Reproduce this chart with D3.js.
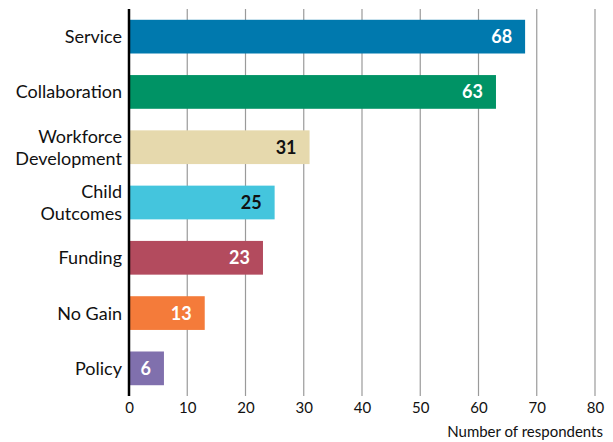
<!DOCTYPE html>
<html>
<head>
<meta charset="utf-8">
<script src="https://cdn.jsdelivr.net/npm/d3@7"></script>
<style>
  html, body { margin: 0; padding: 0; background: #fff; }
  svg { display: block; font-family: "Lato", "Open Sans", sans-serif; }
</style>
</head>
<body>
<svg id="chart" width="613" height="442"></svg>
<script>
// Survey categories and respondent counts
const categories = ["Service", "Collaboration", "Workforce\nDevelopment", "Child\nOutcomes", "Funding", "No Gain", "Policy"];
const counts = [68, 63, 31, 25, 23, 13, 6];
const barColors = ["#0079ae", "#009365", "#e6d9ad", "#44c5dd", "#b34b5e", "#f47b3a", "#8070ad"];
const valueLabelColors = ["#ffffff", "#ffffff", "#111111", "#111111", "#ffffff", "#ffffff", "#ffffff"];
const xTicks = [0, 10, 20, 30, 40, 50, 60, 70, 80];
const xTitle = "Number of respondents";

const svg = d3.select("#chart");
const margin = { left: 129, right: 18, top: 9, bottom: 46 };
const W = 613, H = 442;

const x = d3.scaleLinear().domain([0, 80]).range([margin.left, W - margin.right]);
const y = d3.scaleBand()
  .domain(categories)
  .range([margin.top, H - margin.bottom])
  .paddingInner(0.39)
  .paddingOuter(0.195);

// vertical grid lines
svg.append("g")
  .selectAll("line")
  .data(xTicks.slice(1))
  .join("line")
  .attr("x1", d => x(d)).attr("x2", d => x(d))
  .attr("y1", margin.top).attr("y2", H - margin.bottom)
  .attr("stroke", "#9a9a9a")
  .attr("stroke-width", 1.2);

// bars
svg.append("g")
  .selectAll("rect")
  .data(categories)
  .join("rect")
  .attr("x", x(0))
  .attr("y", d => y(d))
  .attr("width", (d, i) => x(counts[i]) - x(0))
  .attr("height", y.bandwidth())
  .attr("fill", (d, i) => barColors[i]);

// value labels inside bar ends
svg.append("g")
  .selectAll("text")
  .data(categories)
  .join("text")
  .attr("x", (d, i) => x(counts[i]) - 13)
  .attr("y", d => y(d) + y.bandwidth() / 2)
  .attr("dy", "0.36em")
  .attr("text-anchor", "end")
  .attr("font-size", 18)
  .attr("font-weight", "bold")
  .attr("fill", (d, i) => valueLabelColors[i])
  .text((d, i) => counts[i]);

// category labels (may span two lines)
const catG = svg.append("g");
categories.forEach(c => {
  const lines = c.split("\n");
  const cy = y(c) + y.bandwidth() / 2;
  const lh = 22;
  const t = catG.append("text")
    .attr("text-anchor", "end")
    .attr("font-size", 18)
    .attr("fill", "#111");
  lines.forEach((ln, k) => {
    t.append("tspan")
      .attr("x", margin.left - 7)
      .attr("y", cy + (k - (lines.length - 1) / 2) * lh)
      .attr("dy", "0.36em")
      .text(ln);
  });
});

// y axis line
svg.append("line")
  .attr("x1", x(0)).attr("x2", x(0))
  .attr("y1", margin.top).attr("y2", H - margin.bottom)
  .attr("stroke", "#000")
  .attr("stroke-width", 2.5);

// x axis tick labels
const xAxis = d3.axisBottom(x).tickValues(xTicks).tickSize(0).tickPadding(0);
const gx = svg.append("g")
  .attr("transform", `translate(0,${H - margin.bottom + 6})`)
  .call(xAxis);
gx.select(".domain").remove();
gx.selectAll("text")
  .attr("font-size", 15)
  .attr("font-family", "Lato, 'Open Sans', sans-serif")
  .attr("fill", "#111");

// x axis title
svg.append("text")
  .attr("x", W - 10)
  .attr("y", 437)
  .attr("text-anchor", "end")
  .attr("font-size", 15)
  .attr("fill", "#111")
  .text(xTitle);
</script>
</body>
</html>
